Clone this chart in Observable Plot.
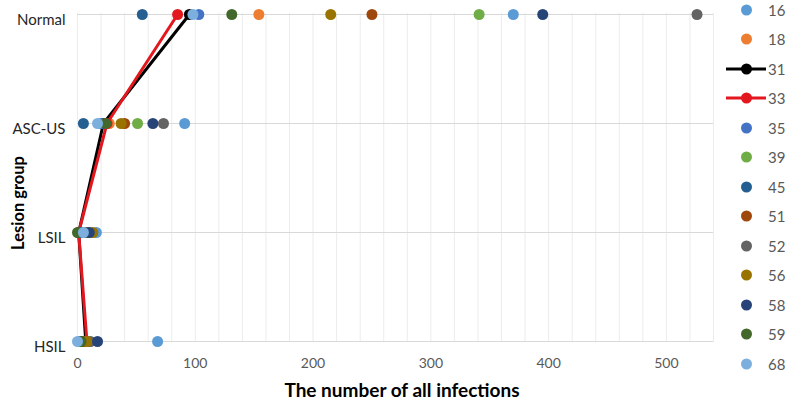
<!DOCTYPE html>
<html>
<head>
<meta charset="utf-8">
<script src="https://cdn.jsdelivr.net/npm/d3@7"></script>
<script src="https://cdn.jsdelivr.net/npm/@observablehq/plot@0.6"></script>
<style>
  html, body { margin: 0; padding: 0; background: #fff; }
  #wrap { position: relative; width: 787px; height: 402px; font-family: Lato, "Open Sans", sans-serif; }
  #ytitle { position: absolute; left: 18px; top: 203px; transform: translate(-50%, -50%) rotate(-90deg); font-weight: bold; font-size: 16.5px; line-height: 18px; color: #000; white-space: nowrap; }
  #xtitle { position: absolute; left: 402px; top: 390px; transform: translate(-50%, -50%); font-weight: bold; font-size: 19px; line-height: 20px; color: #000; white-space: nowrap; }
  #legend { position: absolute; left: 726px; top: -5px; }
  .row { display: flex; align-items: center; height: 29.5px; }
  .row span { margin-left: 2px; font-size: 15px; line-height: 12px; color: #595959; }
</style>
</head>
<body>
<div id="wrap">
  <div id="chart"></div>
  <div id="ytitle">Lesion group</div>
  <div id="xtitle">The number of all infections</div>
  <div id="legend"></div>
</div>
<script>
// Categories
const groups = ["Normal", "ASC-US", "LSIL", "HSIL"];
const types = ["16", "18", "31", "33", "35", "39", "45", "51", "52", "56", "58", "59", "68"];
const typeColors = ["#5B9BD5", "#ED7D31", "#000000", "#E3171E", "#4472C4", "#70AD47", "#255E91", "#9E480E", "#636363", "#997300", "#264478", "#43682B", "#7CAFDD"];
const lineTypes = ["31", "33"];
const xTicks = [0, 100, 200, 300, 400, 500];

// Values per HPV type: [Normal, ASC-US, LSIL, HSIL]
const v16 = [370, 91, 16, 68];
const v18 = [154, 27, 4, 3];
const v31 = [95, 22, 1, 7];
const v33 = [85, 25, 1, 8];
const v35 = [103, 20, 3, 2];
const v39 = [341, 51, 6, 5];
const v45 = [55, 5, 2, 4];
const v51 = [250, 40, 8, 6];
const v52 = [526, 73, 9, 11];
const v56 = [215, 37, 13, 8];
const v58 = [395, 64, 10, 17];
const v59 = [131, 24, 0, 3];
const v68 = [98, 17, 5, 0];

const seriesValues = [v16, v18, v31, v33, v35, v39, v45, v51, v52, v56, v58, v59, v68];

const data = types.map((t, i) => ({
  type: t,
  color: typeColors[i],
  isLine: lineTypes.includes(t),
  points: groups.map((g, j) => ({ type: t, group: g, value: seriesValues[i][j] }))
}));

const seriesMarks = data.flatMap(s => {
  const m = [];
  if (s.isLine) m.push(Plot.line(s.points, { x: "value", y: "group", stroke: s.color, strokeWidth: 3 }));
  m.push(Plot.dot(s.points, { x: "value", y: "group", r: 5.5, fill: s.color, stroke: "none" }));
  return m;
});

const chart = Plot.plot({
  width: 787,
  height: 402,
  marginLeft: 77,
  marginRight: 74,
  marginTop: 13,
  marginBottom: 60,
  style: { fontFamily: "Lato, 'Open Sans', sans-serif", background: "#fff", overflow: "visible" },
  x: { domain: [0, 540] },
  y: { type: "point", domain: groups, padding: 0 },
  marks: [
    Plot.ruleX(d3.range(0, 541, 20), { x: d => d, stroke: "#ececec", strokeWidth: 1 }),
    Plot.ruleY(groups, { y: d => d, stroke: "#d9d9d9", strokeWidth: 1.2 }),
    Plot.axisX({ ticks: xTicks, tickSize: 0, tickPadding: 16, fontSize: 14, fill: "#595959", label: null }),
    Plot.axisY({ tickSize: 0, tickPadding: 12, fontSize: 15, fill: "#262626", label: null, dy: 6 }),
    ...seriesMarks
  ]
});
document.getElementById("chart").appendChild(chart);

// Legend
const legend = d3.select("#legend");
data.forEach(s => {
  const row = legend.append("div").attr("class", "row");
  const svg = row.append("svg").attr("width", 40).attr("height", 14);
  if (s.isLine) svg.append("line").attr("x1", 0).attr("x2", 40).attr("y1", 7).attr("y2", 7).attr("stroke", s.color).attr("stroke-width", 3);
  svg.append("circle").attr("cx", 20.5).attr("cy", 7).attr("r", 5.5).attr("fill", s.color);
  row.append("span").text(s.type);
});
</script>
</body>
</html>
